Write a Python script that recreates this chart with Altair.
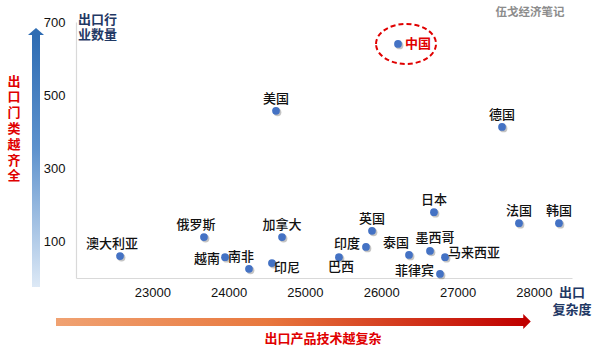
import altair as alt
import pandas as pd

countries = ["中国", "美国", "德国", "澳大利亚", "俄罗斯", "越南", "南非", "印尼", "加拿大",
             "巴西", "印度", "英国", "泰国", "墨西哥", "日本", "马来西亚", "菲律宾", "法国", "韩国"]
complexity = [26220, 24621, 27583, 22577, 23677, 23953, 24267, 24568, 24700,
              25446, 25800, 25879, 26364, 26639, 26691, 26836, 26770, 27805, 28329]
industries = [640, 457, 413, 60, 112, 57, 25, 41, 112,
              57, 85, 129, 63, 74, 180, 57, 11, 150, 150]
label_side = ["hl", "t", "t", "tl", "tl", "lb", "tl", "br", "t",
              "b", "l", "t", "tll", "tr", "t", "r", "l", "t", "t"]
x_ticks = [23000, 24000, 25000, 26000, 27000, 28000]
y_ticks = [100, 300, 500, 700]

df = pd.DataFrame({"country": countries, "complexity": complexity,
                   "industries": industries, "side": label_side})

CJK = "Noto Sans CJK SC"
NUM = "Liberation Sans"

base = alt.Chart(df).encode(
    x=alt.X("complexity:Q",
            scale=alt.Scale(domain=[22000, 28500], nice=False, zero=False),
            axis=alt.Axis(values=x_ticks, title=None, ticks=False, grid=False,
                          domainColor="#d9d9d9", domainWidth=1.2,
                          labelFont=NUM, labelFontSize=13, labelColor="#111",
                          labelPadding=8, labelFlush=False, format="d")),
    y=alt.Y("industries:Q",
            scale=alt.Scale(domain=[0, 700], nice=False),
            axis=alt.Axis(values=y_ticks, title=None, ticks=False, grid=False,
                          domainColor="#d9d9d9", domainWidth=1.2,
                          labelFont=NUM, labelFontSize=13, labelColor="#111",
                          labelPadding=11, format="d")),
)

shadow = base.mark_circle(size=60, color="#555", opacity=0.35, xOffset=1.5, yOffset=1.5)
pts = base.mark_circle(size=60, color="#4472C4", opacity=1)

offsets = {
    "t": (0, -12, "center"),
    "tl": (-8, -12, "center"),
    "tll": (-13, -12, "center"),
    "tr": (5, -13, "center"),
    "l": (-6, -3, "right"),
    "lb": (-5, 2, "right"),
    "r": (3, -4, "left"),
    "br": (2, 5, "left"),
    "b": (2, 10, "center"),
}
label_layers = []
for key, (dx, dy, al) in offsets.items():
    label_layers.append(
        base.transform_filter(alt.datum.side == key).mark_text(
            dx=dx, dy=dy, align=al, baseline="middle", font=CJK, fontSize=13,
            fontWeight=500, color="#111").encode(text="country:N"))

china = base.transform_filter(alt.datum.side == "hl")
china_label = china.mark_text(dx=7, dy=0, align="left", baseline="middle", font=CJK,
                              fontSize=13, fontWeight="bold", color="#E00000"
                              ).encode(text="country:N")
ellipse = china.mark_point(
    shape="M -1.5 0 A 1.5 1 0 1 1 1.5 0 A 1.5 1 0 1 1 -1.5 0 Z",
    size=1600, filled=False, stroke="#E00000", strokeWidth=2,
    strokeDash=[5, 3], xOffset=8, opacity=1)

one = alt.Chart(pd.DataFrame({"k": [0]}))

v_grad = alt.Gradient(gradient="linear", x1=0, y1=0, x2=0, y2=1, stops=[
    alt.GradientStop(color="#2E6CB3", offset=0),
    alt.GradientStop(color="#5E92CD", offset=0.45),
    alt.GradientStop(color="#DDE9F6", offset=1)])
v_shaft = one.mark_rect(color=v_grad).encode(
    x=alt.value(-44), x2=alt.value(-36), y=alt.value(13), y2=alt.value(265))
v_head = one.mark_point(shape="M -1 0.4375 L 0 -0.4375 L 1 0.4375 Z", size=256,
                        filled=True, color="#2E6CB3", opacity=1, strokeWidth=0
                        ).encode(x=alt.value(-40), y=alt.value(9.5))

h_grad = alt.Gradient(gradient="linear", x1=0, y1=0, x2=1, y2=0, stops=[
    alt.GradientStop(color="#F0A272", offset=0),
    alt.GradientStop(color="#E8783E", offset=0.45),
    alt.GradientStop(color="#C00000", offset=1)])
h_shaft = one.mark_rect(color=h_grad).encode(
    x=alt.value(-20), x2=alt.value(448), y=alt.value(296), y2=alt.value(304))
h_head = one.mark_point(shape="M -0.5 -1 L 0.5 0 L -0.5 1 Z", size=225,
                        filled=True, color="#C00000", opacity=1, strokeWidth=0
                        ).encode(x=alt.value(451), y=alt.value(299.5))

red_v = one.mark_text(align="center", baseline="top", font=CJK, fontSize=13,
                      fontWeight="bold", lineHeight=15.8, color="#E00000").encode(
    x=alt.value(-62), y=alt.value(53.5), text=alt.value(list("出口门类越齐全")))
red_h = one.mark_text(align="center", baseline="middle", font=CJK, fontSize=13,
                      fontWeight="bold", color="#E00000").encode(
    x=alt.value(247), y=alt.value(317), text=alt.value("出口产品技术越复杂"))
y_title = one.mark_text(align="left", baseline="top", font=CJK, fontSize=13,
                        fontWeight="bold", lineHeight=15, color="#1F3864").encode(
    x=alt.value(2), y=alt.value(-8.5), text=alt.value(["出口行", "业数量"]))
x_title = one.mark_text(align="center", baseline="top", font=CJK, fontSize=13,
                        fontWeight="bold", lineHeight=17, color="#1F3864").encode(
    x=alt.value(496), y=alt.value(264.5), text=alt.value(["出口", "复杂度"]))
mark_wm = one.mark_text(align="center", baseline="middle", font=CJK, fontSize=11.5,
                        fontWeight="bold", color="#8C8C8C").encode(
    x=alt.value(454), y=alt.value(-9), text=alt.value("伍戈经济笔记"))

chart = alt.layer(
    v_shaft, v_head, h_shaft, h_head, shadow, pts, *label_layers, china_label, ellipse,
    red_v, red_h, y_title, x_title, mark_wm
).properties(
    width=496, height=256,
    padding={"left": 76, "top": 22, "right": 28, "bottom": 73},
    autosize=alt.AutoSizeParams(type="none"),
    background="white",
).configure_view(strokeWidth=0)

chart.save("out.html", embed_options={"renderer": "svg", "actions": False})
